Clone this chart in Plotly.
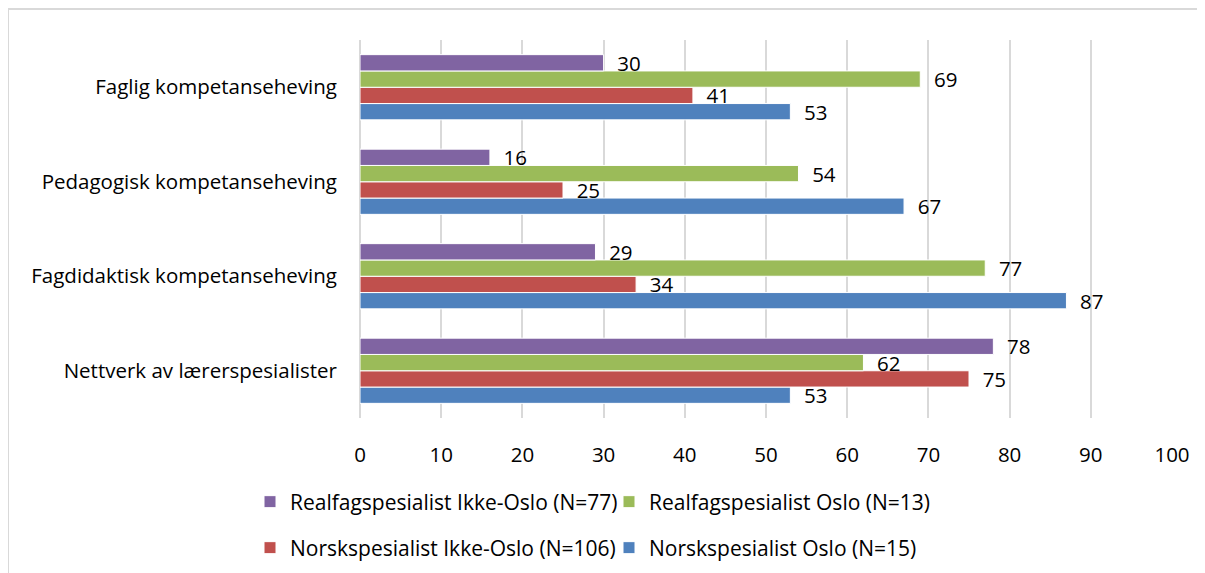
import plotly.graph_objects as go

categories = ["Faglig kompetanseheving", "Pedagogisk kompetanseheving",
              "Fagdidaktisk kompetanseheving", "Nettverk av lærerspesialister"]
norsk_oslo = [53, 67, 87, 53]
norsk_ikke_oslo = [41, 25, 34, 75]
realfag_oslo = [69, 54, 77, 62]
realfag_ikke_oslo = [30, 16, 29, 78]
x_ticks = [0, 10, 20, 30, 40, 50, 60, 70, 80, 90, 100]

series = [
    ("Norskspesialist Oslo (N=15)", norsk_oslo, "#4F81BD", "legend2"),
    ("Norskspesialist Ikke-Oslo (N=106)", norsk_ikke_oslo, "#C0504D", "legend2"),
    ("Realfagspesialist Oslo (N=13)", realfag_oslo, "#9BBB59", "legend"),
    ("Realfagspesialist Ikke-Oslo (N=77)", realfag_ikke_oslo, "#8064A2", "legend"),
]

FONT = "Open Sans"
FS = 20.5
LFS = 21

fig = go.Figure()
for name, vals, col, lg in series:
    fig.add_trace(go.Bar(
        y=categories, x=vals, name=name, orientation="h",
        marker=dict(color=col, line=dict(color="white", width=1)),
        text=vals, texttemplate="\u00a0\u00a0%{x}", textposition="outside",
        textfont=dict(color="black", size=FS, family=FONT),
        constraintext="none", cliponaxis=False, legend=lg,
    ))

# page offset: body margin of 8px
PL, PR, PT, PB = 360, 1172, 40, 418
W, H = PR - PL, PB - PT


def leg(xpx, ypx):
    return dict(orientation="h", x=(xpx - PL) / W, y=(PB - ypx) / H,
                xanchor="left", yanchor="middle", traceorder="reversed",
                entrywidth=314, entrywidthmode="pixels",
                bgcolor="rgba(0,0,0,0)",
                font=dict(size=LFS, family=FONT), itemwidth=30)


fig.update_layout(
    width=1197, height=565,
    margin=dict(l=PL - 8, r=1205 - PR, t=PT - 8, b=573 - PB, autoexpand=False),
    paper_bgcolor="white", plot_bgcolor="white",
    font=dict(family=FONT, size=FS, color="black"),
    barmode="group", bargap=0.31, bargroupgap=0,
    xaxis=dict(range=[0, 100], tickvals=x_ticks, showgrid=True, gridcolor="#d9d9d9",
               gridwidth=1.5, zeroline=True, zerolinecolor="#d9d9d9", zerolinewidth=1.5,
               ticks="", ticklabelstandoff=22, showline=False),
    yaxis=dict(categoryorder="array", categoryarray=categories[::-1],
               ticks="", ticklabelstandoff=22, showgrid=False),
    legend=leg(250, 502),
    legend2=leg(250, 548),
    shapes=[dict(type="rect", xref="paper", yref="paper",
                 x0=(8 - PL) / W, x1=(1215 - PL) / W,
                 y0=(PB - 590) / H, y1=(PB - 9) / H,
                 line=dict(color="#d9d9d9", width=2), fillcolor="rgba(0,0,0,0)", layer="below")],
)

fig.write_html("out.html")
